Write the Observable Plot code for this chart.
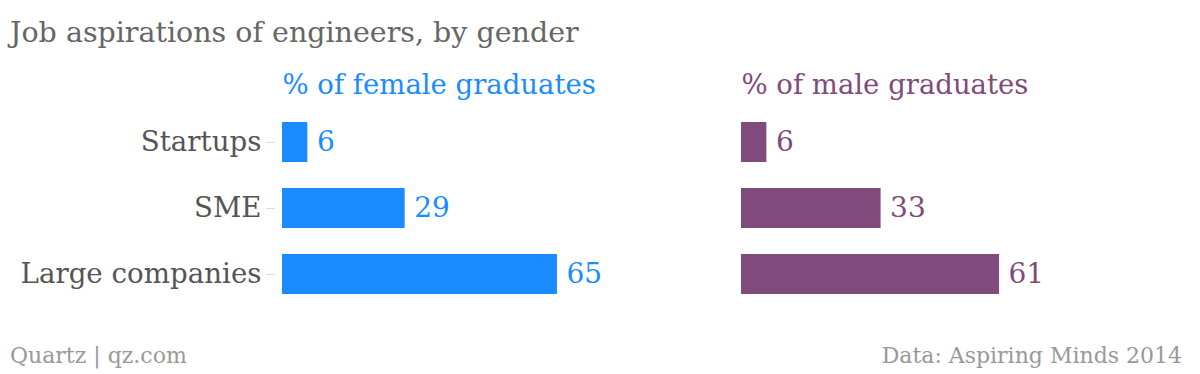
<!DOCTYPE html>
<html>
<head>
<meta charset="utf-8">
<script src="https://cdn.jsdelivr.net/npm/d3@7"></script>
<script src="https://cdn.jsdelivr.net/npm/@observablehq/plot@0.6"></script>
<style>
  html, body { margin: 0; padding: 0; background: #fff; }
  #wrap { position: relative; width: 1200px; height: 374px; overflow: hidden; font-family: "DejaVu Serif", serif; }
  #chart { position: absolute; left: 0; top: 0; }
  .title { position: absolute; left: 10px; top: 19px; font-size: 28.5px; line-height: 28px; color: #666; white-space: nowrap; }
  .foot { position: absolute; top: 345px; font-size: 22px; line-height: 22px; color: #999; font-family: "DejaVu Serif", serif; white-space: nowrap; }
  .foot.left { left: 10px; }
  .foot.right { right: 18px; }
</style>
</head>
<body>
<div id="wrap">
  <div class="title">Job aspirations of engineers, by gender</div>
  <div id="chart"></div>
  <div class="foot left">Quartz | qz.com</div>
  <div class="foot right">Data: Aspiring Minds 2014</div>
</div>
<script>
const categories = ["Startups", "SME", "Large companies"];
const femaleValues = [6, 29, 65];
const maleValues = [6, 33, 61];
const genders = ["female", "male"];
const headerLabels = ["% of female graduates", "% of male graduates"];
const genderColors = ["#1a8cff", "#7f4a7c"];

const rows = [];
categories.forEach((c, i) => {
  rows.push({gender: "female", category: c, value: femaleValues[i]});
  rows.push({gender: "male", category: c, value: maleValues[i]});
});
const headers = genders.map((g, i) => ({gender: g, label: headerLabels[i]}));

const chart = Plot.plot({
  width: 1200,
  height: 374,
  marginLeft: 282,
  marginRight: 36,
  marginTop: 109,
  marginBottom: 67,
  style: {fontFamily: "'DejaVu Serif', serif", background: "transparent"},
  fx: {domain: genders, paddingInner: 36 / 459, paddingOuter: 0, axis: null},
  x: {domain: [0, 100], axis: null},
  y: {domain: categories, paddingInner: 0.4, paddingOuter: 0.2, label: null},
  color: {domain: genders, range: genderColors},
  marks: [
    Plot.axisY({tickSize: 9, tickPadding: 5, dx: -7, fontSize: 27.7, color: "#555", stroke: "#ddd", label: null}),
    Plot.barX(rows, {fx: "gender", y: "category", x: "value", fill: "gender"}),
    Plot.text(rows, {fx: "gender", y: "category", x: "value", text: d => String(d.value), fill: "gender", textAnchor: "start", dx: 9, fontSize: 28}),
    Plot.text(headers, {fx: "gender", x: () => 0, text: "label", fill: "gender", frameAnchor: "top", lineAnchor: "bottom", textAnchor: "start", dy: -16, fontSize: 27.5})
  ]
});
document.getElementById("chart").appendChild(chart);
</script>
</body>
</html>
